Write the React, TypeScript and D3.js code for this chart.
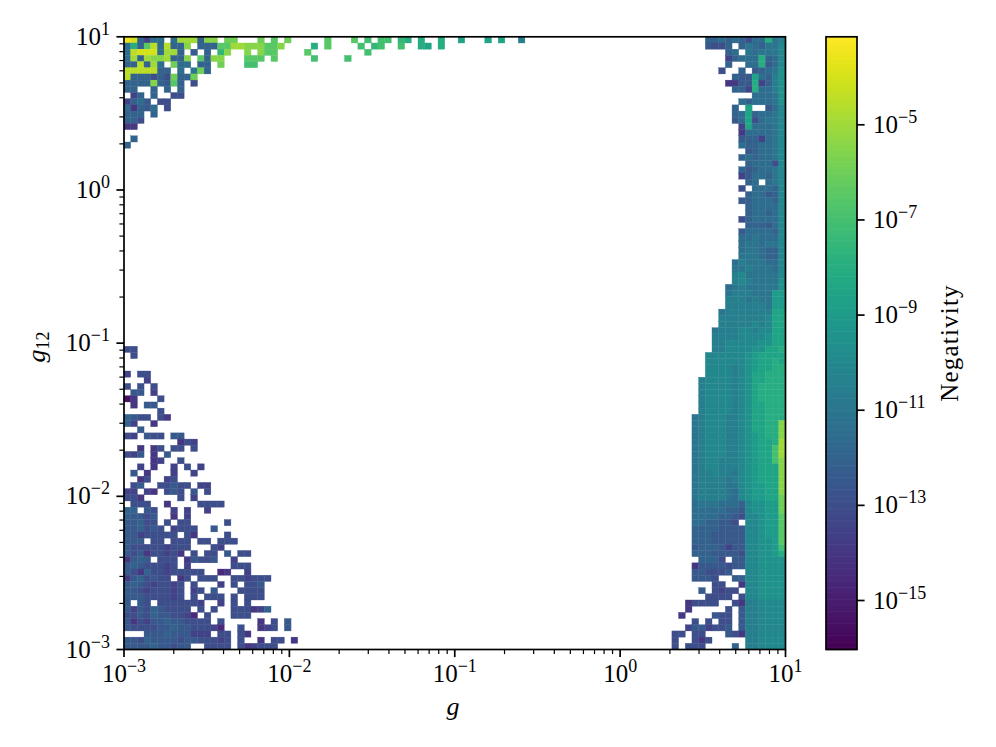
import React from "react";
import * as d3 from "d3";

// Each letter is a cell's log10(value): a=-16, b=-15.5, ... z=-3.5; "." = no data (below threshold)
const levelLetters = "abcdefghijklmnopqrstuvwxyz";
const gridEdgesCount = 100;
const xDomain: [number, number] = [1e-3, 10];
const yDomain: [number, number] = [1e-3, 10];
const colorDomain: [number, number] = [Math.pow(10, -16.03), Math.pow(10, -3.15)];
const decadeExponents = [-3, -2, -1, 0, 1];
const colorbarExponents = [-5, -7, -9, -11, -13, -15];

// rows counted from the top, columns from the left
const topLeftRows = [
  "zyifjj.jwwwivv.uu...u.t.u.....t...t.s.ss.rq.q..q..p...p.p..l",
  "jqitxjxiiv.iiittwwvvvttv....q.t....s.rs..s..qp.q..",
  "jxyyyjwwi.h.i.rv..v.vtt....t........s...",
  "jwiwvvwiiv.tivv...ttt.t.....s....s",
  "iixiwj.ujj.ii.u...ss",
  "xxxxxii.j.kui",
  "xiiigiguiiu",
  "iiiivihti.g",
  "ii..i.i.i",
  ".fi.i..gg",
  "fijh.gg",
  "jeihj.g",
  "iii.i",
  "iig",
  "ee",
  "",
  ".i",
  "i",
];

const lowerLeftFirstRow = 50;
const lowerLeftRows = [
  "gg",
  ".g",
  "",
  "",
  "f.gg",
  "...f",
  "g.g.g",
  ".hh.f",
  "be...g",
  ".e.hh",
  ".....g",
  "ihgg.ge",
  "if..e",
  "..h",
  "gf.hgg.hh",
  "........egf",
  "..e.eg.gg.g",
  "gfh.e.h",
  "....ef..g",
  "..f.e..f.g.f",
  ".h.e...f..f",
  "..eg..fg",
  ".gh..gghgg.ff",
  "ff.fe.ghg.h.g",
  "gge.....g.f",
  ".ggg..e....gggg",
  "ii.hg..f.f..f",
  "ihhgh..e.f",
  "hhigg.g.gg.....g",
  "hhighg.fggg..h",
  "hhfggggg.ge....g",
  "hhh.gg.ggg.gg.ggg",
  "hgggggfggg...gf",
  "hgheggfge.g.gg.h.gg",
  "ehih.ggg.ehggh..f",
  "hihgggfg.f......ggg",
  "hgeiggfggggg..de..f",
  "ehighgg.eg.ggg..ggfggg",
  "hihgfggfg.g...f.g.ggh",
  "hhgfgggfg.fg.h...gggg",
  "hhhggggfg.g.ggg.g.ggg",
  "h.hg.ggggggf..f.g.g",
  "hfhgihgggg.g.g..gggefi",
  "gghgihhggfd.g...ggg",
  "hegfhhihhgggg.g.....e.g.h",
  "hgggghhihhgggfd..g..efg.h",
  "...hhhihhhfff.gg.ge",
  "hhgihhhhghhgggfg.g..e.gg.e",
  "hhhhihhghh..gggg.gefggg",
];

const rightFirstColumn = 81;
const rightRows = [
  "......iijijigjjqkl",
  "......hggi.ikjikkm",
  ".........ij.kjkkkm",
  ".........fijjjqijm",
  ".........i..jjqhjm",
  "........g..i.hijkn",
  "..........ihhpjiln",
  ".........eehhqfiln",
  "..........iifqjjln",
  ".............jjjkn",
  "...........jijjjkn",
  "..........i.p..hjm",
  "..........ijpijjkm",
  "..........hjpgjkkm",
  "...........fpjjjkm",
  "...........ejjjjkm",
  "...........hiifjkm",
  "...........jiijjkm",
  "............hijjkm",
  "...........ijijjkm",
  "............ijjjgm",
  "...........ihijjkm",
  "...........fhjjikm",
  "............ij.jkm",
  "...........g.jjjim",
  "............ijjhim",
  "...........hijjjim",
  "............ijjjjm",
  "............ijjijm",
  "...........gijjjjm",
  "............iiihjm",
  "...........hjjjjim",
  "...........jjkjjjm",
  "...........jkkjkkm",
  "...........jkkjiim",
  "...........kkkjiim",
  "..........jlkkkjjm",
  "..........kklkkkjm",
  "..........lmkkkkkm",
  "..........lmlkkkkn",
  ".........jklkkkkkn",
  ".........klllkkkoo",
  ".........lllklkkoo",
  ".........llllllkoo",
  "........klllllllpp",
  "........lllllllmpp",
  "........lllllmlmpp",
  ".......klllmmlmmpp",
  ".......llllmmmmnpp",
  ".......llmmmmmnnpp",
  ".......llmmmmnnppq",
  "......mmmmmmnopppp",
  "......mmmmmmnoppqp",
  "......mmmmlmnoppqq",
  "......mmmmlmnppqqq",
  ".....lmmmmlmnppqqq",
  ".....lmmmmlmnpqqqq",
  ".....lmmmmlmnpqqqq",
  ".....lmmmmlmnpqqqq",
  ".....lmmmmlmnppqqq",
  ".....lmmmmlmnppqqq",
  "....klmmmllmnppqqq",
  "....klmmmllmnppqqv",
  "....klmmmllmnppqqv",
  "....klmmmllmnopqqv",
  "....klmmmllmnoppqw",
  "....klmmmllmnoppsw",
  "....klmmmllmnoppsw",
  "....klmmlllmnoppsv",
  "....klmmlllmnopppv",
  "....kllmllkmnopppv",
  "....kllllklmnopppv",
  "....kllllkkmnooppv",
  "....kllllkjmnooppv",
  "....kllllkjmnooppu",
  "....jkkkjjjimnnoou",
  "....jjjjjiihmnnoou",
  "....jjjjiihgmmnoot",
  "....jjiihhg.mmnoot",
  "....iiiihhhhmmnoot",
  "....iiihhhhhmmnoot",
  "....iiihhhhhmmnnot",
  "....hiiihfhhmmnnos",
  "....iiihhhhgmmnnoq",
  ".....iiig.hhmmnnnn",
  "....ehhhhghhmmnnnn",
  "....hhgggh..mmnnnn",
  "....hhhg..himmnnnn",
  ".......gg..emmnnnn",
  ".....h.gfgg.mmnnnn",
  "......gggg.gmmnnnn",
  "...egggg..gellmmmm",
  "...e.....g.hllmmmm",
  "..e....hgg.hllmmmm",
  "....g.g.gg.hllmmmm",
  "...fhhfggh.hllmmmm",
  ".gg.gg...hgellmmmm",
  ".g..geg.....llmmmm",
  ".g.ggg....i.llmmmm",
];

const BLACK = "#000";
const FONT = "Liberation Serif, Times New Roman, Times, serif";
const plot = { left: 124, right: 785.5, top: 36.8, bottom: 649.5 };
const bar = { left: 826, right: 857 };

type Cell = { col: number; row: number; letter: string };

function rowsToCells(rows: string[], firstRow: number, firstCol: number): Cell[] {
  const out: Cell[] = [];
  rows.forEach((s, r) => {
    Array.from(s).forEach((ch, c) => {
      if (ch !== ".") out.push({ col: firstCol + c, row: firstRow + r, letter: ch });
    });
  });
  return out;
}

function Pow({ x, y, exp, anchor, size }: { x: number; y: number; exp: number; anchor: string; size: number }) {
  return (
    <text x={x} y={y} textAnchor={anchor} fontFamily={FONT} fontSize={size} fill={BLACK} style={{ fontFamily: FONT }}>
      10
      <tspan dy={-size * 0.4} fontSize={size * 0.72}>
        {exp < 0 ? "\u2212" + Math.abs(exp) : String(exp)}
      </tspan>
    </text>
  );
}

export default function App() {
  const x = d3.scaleLog().domain(xDomain).range([plot.left, plot.right]);
  const y = d3.scaleLog().domain(yDomain).range([plot.bottom, plot.top]);
  const color = d3.scaleSequentialLog(d3.interpolateViridis).domain(colorDomain);
  const barScale = d3.scaleLog().domain(colorDomain).range([plot.bottom, plot.top]);

  const edge = (i: number) => Math.pow(10, -3 + (4 * i) / (gridEdgesCount - 1));
  const valueOf = (ch: string) => Math.pow(10, -16 + 0.5 * levelLetters.indexOf(ch));

  const cells = [
    ...rowsToCells(topLeftRows, 0, 0),
    ...rowsToCells(lowerLeftRows, lowerLeftFirstRow, 0),
    ...rowsToCells(rightRows, 0, rightFirstColumn),
  ];

  const minor: number[] = [];
  decadeExponents.slice(0, -1).forEach((e) => {
    for (let m = 2; m <= 9; m++) minor.push(m * Math.pow(10, e));
  });

  const barSteps = d3.range(256);
  const barEdge = d3.scaleLinear().domain([0, 256]).range([plot.bottom, plot.top]);

  return (
    <svg
      width={996}
      height={747}
      viewBox="0 0 996 747"
      style={{ position: "absolute", left: 0, top: 0, background: "#fff" }}
    >
      <g>
        {cells.map((d, i) => {
          const x0 = x(edge(d.col));
          const x1 = x(edge(d.col + 1));
          const y0 = y(edge(gridEdgesCount - 1 - d.row));
          const y1 = y(edge(gridEdgesCount - 2 - d.row));
          const c = color(valueOf(d.letter));
          return (
            <rect
              key={i}
              x={x0}
              y={y0}
              width={x1 - x0}
              height={y1 - y0}
              fill={c}
              stroke={c}
              strokeWidth={0.35}
            />
          );
        })}
      </g>

      <rect
        x={plot.left}
        y={plot.top}
        width={plot.right - plot.left}
        height={plot.bottom - plot.top}
        fill="none"
        stroke={BLACK}
        strokeWidth={1.7}
      />

      {minor.map((v) => (
        <g key={v} stroke={BLACK} strokeWidth={1.2}>
          <line x1={x(v)} x2={x(v)} y1={plot.bottom} y2={plot.bottom + 4.6} />
          <line x1={plot.left} x2={plot.left - 4.6} y1={y(v)} y2={y(v)} />
        </g>
      ))}
      {decadeExponents.map((e) => {
        const v = Math.pow(10, e);
        return (
          <g key={e}>
            <line x1={x(v)} x2={x(v)} y1={plot.bottom} y2={plot.bottom + 7.6} stroke={BLACK} strokeWidth={1.7} />
            <line x1={plot.left} x2={plot.left - 7.6} y1={y(v)} y2={y(v)} stroke={BLACK} strokeWidth={1.7} />
            <Pow x={x(v)} y={682} exp={e} anchor="middle" size={25} />
            <Pow x={110} y={y(v) + 8} exp={e} anchor="end" size={25} />
          </g>
        );
      })}

      <text
        x={453}
        y={715}
        textAnchor="middle"
        fontStyle="italic"
        fontSize={26}
        fill={BLACK}
        style={{ fontFamily: FONT }}
      >
        g
      </text>
      <text
        transform="translate(45,347) rotate(-90)"
        textAnchor="middle"
        fontSize={26}
        fontStyle="italic"
        fill={BLACK}
        style={{ fontFamily: FONT }}
      >
        g
        <tspan fontSize={18} dy={4} fontStyle="normal">
          12
        </tspan>
      </text>

      <g>
        {barSteps.map((i) => (
          <rect
            key={i}
            x={bar.left}
            width={bar.right - bar.left}
            y={barEdge(i + 1)}
            height={barEdge(i) - barEdge(i + 1) + 0.6}
            fill={d3.interpolateViridis((i + 0.5) / 256)}
          />
        ))}
      </g>
      <rect
        x={bar.left}
        y={plot.top}
        width={bar.right - bar.left}
        height={plot.bottom - plot.top}
        fill="none"
        stroke={BLACK}
        strokeWidth={1.7}
      />
      {colorbarExponents.map((e) => {
        const yy = barScale(Math.pow(10, e));
        return (
          <g key={e}>
            <line x1={bar.right} x2={bar.right + 7.6} y1={yy} y2={yy} stroke={BLACK} strokeWidth={1.7} />
            <Pow x={873} y={yy + 8} exp={e} anchor="start" size={25} />
          </g>
        );
      })}
      <text
        transform="translate(958,343) rotate(-90)"
        textAnchor="middle"
        fontSize={25}
        letterSpacing={1.2}
        fill={BLACK}
        style={{ fontFamily: FONT }}
      >
        Negativity
      </text>
    </svg>
  );
}
